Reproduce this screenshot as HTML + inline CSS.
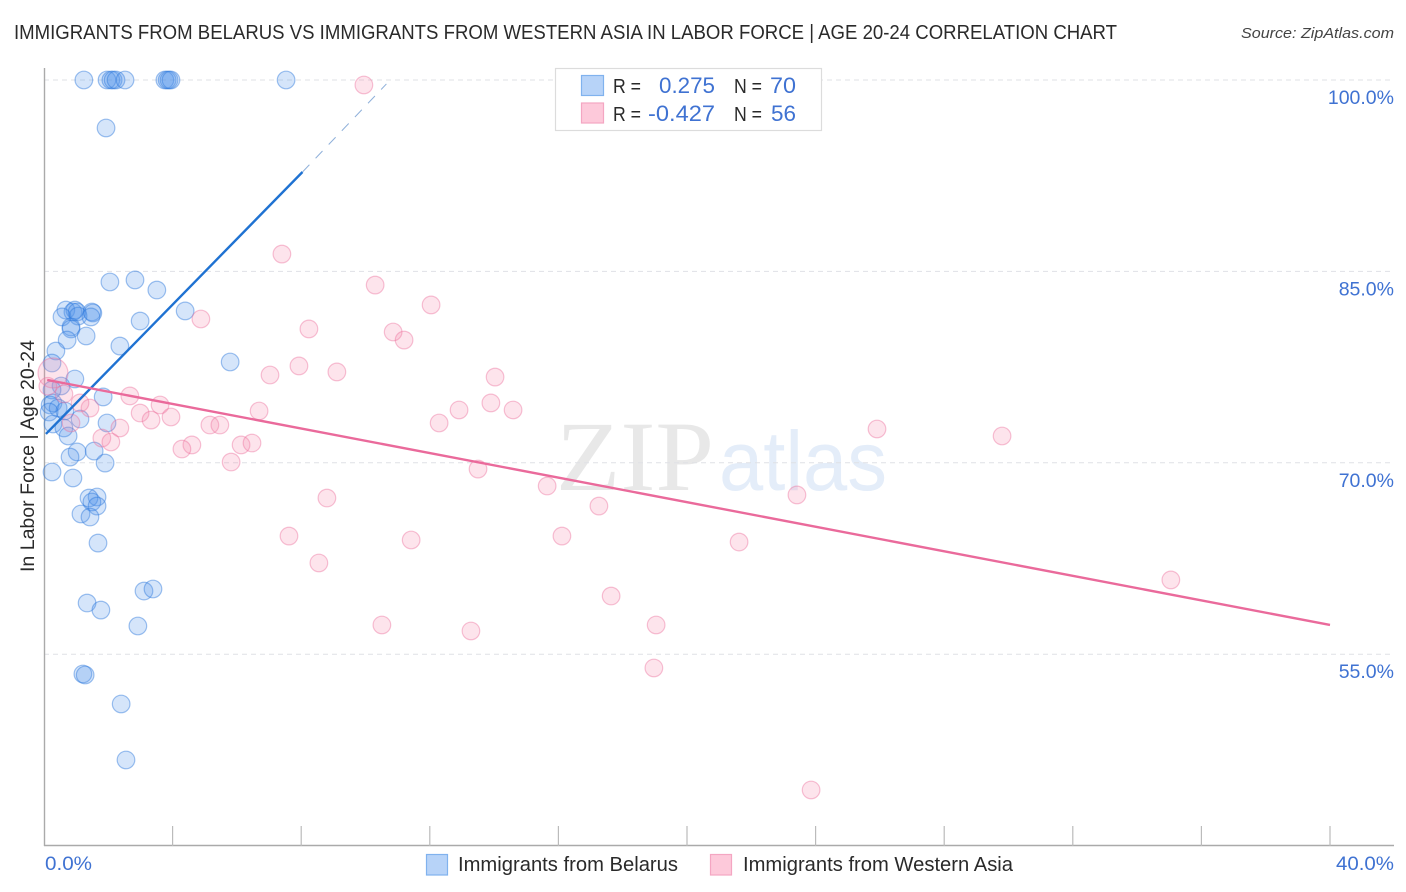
<!DOCTYPE html>
<html lang="en">
<head>
<meta charset="utf-8">
<title>Immigrants from Belarus vs Immigrants from Western Asia Correlation Chart</title>
<style>
html,body{margin:0;padding:0;background:#fff;width:1406px;height:892px;overflow:hidden}
svg{display:block}
text{font-family:"Liberation Sans",sans-serif}
.blue-t{fill:#3f72d2}
.dark-t{fill:#2a2a2a}
</style>
</head>
<body>
<svg id="chart" xmlns="http://www.w3.org/2000/svg" width="1406" height="892" viewBox="0 0 1406 892">
  <g>
    <text x="556" y="490" font-size="100" textLength="158" lengthAdjust="spacingAndGlyphs" fill="#e8e8e8" style="font-family:'Liberation Serif',serif">ZIP</text>
    <text x="719" y="490" font-size="84" textLength="168" lengthAdjust="spacingAndGlyphs" fill="#e4edf9">atlas</text>
  </g>
  <g id="grid"></g>
  <g id="axes"></g>
  <g id="blue-points"></g>
  <g id="pink-points"></g>
  <g id="trends"></g>
  <text x="14" y="39" font-size="20" textLength="1103" lengthAdjust="spacingAndGlyphs" class="dark-t">IMMIGRANTS FROM BELARUS VS IMMIGRANTS FROM WESTERN ASIA IN LABOR FORCE | AGE 20-24 CORRELATION CHART</text>
  <text x="1241" y="38" font-size="15" textLength="153" lengthAdjust="spacingAndGlyphs" font-style="italic" fill="#444">Source: ZipAtlas.com</text>
  <text transform="translate(34,456) rotate(-90)" font-size="19" text-anchor="middle" textLength="232" lengthAdjust="spacingAndGlyphs" class="dark-t">In Labor Force | Age 20-24</text>

  <g>
    <rect x="555.5" y="68.5" width="266" height="62" fill="#fff" stroke="#dcdcdc" stroke-width="1.2"/>
    <rect x="581.5" y="75.5" width="22" height="20" fill="#b7d3f8" stroke="#80b2ee" stroke-width="1.2"/>
    <rect x="581.5" y="103" width="22" height="20" fill="#fdc9da" stroke="#f4a6c2" stroke-width="1.2"/>
    <text x="613" y="93" font-size="20" textLength="28" lengthAdjust="spacingAndGlyphs" class="dark-t">R =</text>
    <text x="659" y="93" font-size="22" textLength="56" lengthAdjust="spacingAndGlyphs" class="blue-t">0.275</text>
    <text x="734" y="93" font-size="20" textLength="28" lengthAdjust="spacingAndGlyphs" class="dark-t">N =</text>
    <text x="770" y="93" font-size="22" textLength="26" lengthAdjust="spacingAndGlyphs" class="blue-t">70</text>
    <text x="613" y="121" font-size="20" textLength="28" lengthAdjust="spacingAndGlyphs" class="dark-t">R =</text>
    <text x="648" y="121" font-size="22" textLength="67" lengthAdjust="spacingAndGlyphs" class="blue-t">-0.427</text>
    <text x="734" y="121" font-size="20" textLength="28" lengthAdjust="spacingAndGlyphs" class="dark-t">N =</text>
    <text x="771" y="121" font-size="22" textLength="25" lengthAdjust="spacingAndGlyphs" class="blue-t">56</text>
  </g>

  <g>
    <rect x="426.5" y="854.5" width="21" height="20.5" fill="#b7d3f8" stroke="#80b2ee" stroke-width="1.2"/>
    <text x="458" y="871" font-size="20" textLength="220" lengthAdjust="spacingAndGlyphs" class="dark-t">Immigrants from Belarus</text>
    <rect x="710.5" y="854.5" width="21" height="20.5" fill="#fdc9da" stroke="#f4a6c2" stroke-width="1.2"/>
    <text x="743" y="871" font-size="20" textLength="270" lengthAdjust="spacingAndGlyphs" class="dark-t">Immigrants from Western Asia</text>
  </g>
</svg>
<script>
const yTickValues = [100, 85, 70, 55];
const yTickLabels = ["100.0%", "85.0%", "70.0%", "55.0%"];
const xTickValues = [4, 8, 12, 16, 20, 24, 28, 32, 36, 40];
const xEndLabels = ["0.0%", "40.0%"];

const belarusX = [1.24,1.96,2.08,2.15,2.24,2.52,3.76,3.83,3.89,3.95,7.53,1.93,2.05,2.83,3.51,2.99,4.39,0.68,0.96,0.90,1.03,1.49,1.52,0.56,1.06,1.46,0.84,0.84,1.31,0.72,0.37,2.36,0.25,5.79,0.96,0.53,0.25,1.84,0.28,0.19,0.44,0.65,0.16,1.12,1.96,0.28,0.62,0.75,1.03,0.81,1.56,1.90,0.25,0.90,1.65,1.40,1.49,1.65,1.15,1.43,1.68,1.34,1.77,3.11,3.39,2.92,1.21,1.28,2.40,2.55];
const belarusY = [100,100,100,100,100,100,100,100,100,100,100,96.24,84.17,84.33,83.54,81.11,81.90,81.97,81.97,81.82,81.82,81.82,81.74,81.43,81.5,81.43,80.64,80.49,79.94,79.62,78.76,79.15,77.82,77.9,76.57,76.02,75.71,75.16,74.69,74.53,74.29,74.06,73.98,73.43,73.12,73.04,72.73,72.1,70.85,70.45,70.92,69.98,69.28,68.81,67.32,67.24,66.93,66.61,65.99,65.75,63.71,59.01,58.46,59.95,60.11,57.21,53.45,53.37,51.10,46.71];

const westernAsiaX = [9.95,7.40,10.30,12.04,4.88,8.24,10.86,11.20,7.93,7.03,9.11,14.03,13.90,14.59,12.91,12.29,6.69,3.61,2.67,2.99,3.33,3.95,5.16,5.47,4.60,4.29,6.13,6.47,5.82,2.36,1.80,2.08,0.84,1.43,1.12,0.62,13.50,15.65,17.26,8.80,7.62,8.55,11.42,16.11,10.51,13.28,17.64,19.04,18.97,21.62,23.42,25.91,29.80,35.05,23.86,0.12,0.28];
const westernAsiaY = [99.61,86.36,83.93,82.37,81.27,80.49,80.25,79.62,77.59,76.88,77.12,76.72,74.69,74.14,74.14,73.12,74.06,74.53,75.24,73.90,73.35,73.59,72.96,72.96,71.40,71.08,71.40,71.55,70.06,72.73,71.94,71.63,73.12,74.29,74.69,75.39,69.51,68.18,66.61,67.24,64.26,62.15,63.95,64.26,57.29,56.82,59.56,57.29,53.92,63.79,67.48,72.65,72.10,60.82,44.36,76.0,77.04];
const westernAsiaWeight = [1,1,1,1,1,1,1,1,1,1,1,1,1,1,1,1,1,1,1,1,1,1,1,1,1,1,1,1,1,1,1,1,1,1,1,1,1,1,1,1,1,1,1,1,1,1,1,1,1,1,1,1,1,1,1,1,2.8];

const belarusTrendX = [0.06, 8.04, 10.65];
const belarusTrendY = [72.26, 92.79, 99.69];
const westernAsiaTrendX = [0.1, 40];
const westernAsiaTrendY = [76.49, 57.29];

const NS = "http://www.w3.org/2000/svg";
const X0 = 44, XPER = 32.15, Y100 = 80, YPER = 12.76;
function sx(v){ return X0 + v * XPER; }
function sy(v){ return Y100 + (100 - v) * YPER; }
function mk(tag, parent, props, content){
  const el = document.createElementNS(NS, tag);
  for (const k in props) el.setAttribute(k, props[k]);
  if (content !== undefined) el.textContent = content;
  document.getElementById(parent).appendChild(el);
  return el;
}

yTickValues.forEach(function(v, i){
  const line = mk("line", "grid", {x1: X0, x2: 1394, y1: sy(v), y2: sy(v), stroke: "#dfe1e6", "stroke-width": 1, "stroke-dasharray": "5 4"});
  
  
  const label = mk("text", "grid", {x: 1394, y: sy(v) + 24, "text-anchor": "end", "font-size": 19.5, "class": "blue-t"}, yTickLabels[i]);
  
  
});

const yAxis = mk("line", "axes", {x1: 44.5, x2: 44.5, y1: 68, y2: 846, stroke: "#aaa", "stroke-width": 1.4});


const xAxis = mk("line", "axes", {x1: 44, x2: 1394, y1: 845.5, y2: 845.5, stroke: "#aaa", "stroke-width": 1.4});


xTickValues.forEach(function(v){
  const tick = mk("line", "axes", {x1: sx(v), x2: sx(v), y1: 826, y2: 846, stroke: "#bbb", "stroke-width": 1.2});
  
  
});
const xStart = mk("text", "axes", {x: 45, y: 870, "font-size": 19.5, textLength: 47, lengthAdjust: "spacingAndGlyphs", "class": "blue-t"}, xEndLabels[0]);


const xEnd = mk("text", "axes", {x: 1336, y: 870, "font-size": 19.5, textLength: 58, lengthAdjust: "spacingAndGlyphs", "class": "blue-t"}, xEndLabels[1]);



belarusX.forEach(function(v, i){
  const dot = mk("circle", "blue-points", {cx: sx(v), cy: sy(belarusY[i]), r: 8.8, fill: "rgba(80,148,236,0.24)", stroke: "rgba(45,120,220,0.45)", "stroke-width": 1.2});
  
  
});
westernAsiaX.forEach(function(v, i){
  const dot = mk("circle", "pink-points", {cx: sx(v), cy: sy(westernAsiaY[i]), r: 8.8 * (westernAsiaWeight[i] > 1 ? 1.7 : 1), fill: "rgba(245,130,170,0.22)", stroke: "rgba(235,110,155,0.42)", "stroke-width": 1.2});
  
  
});

const solid = mk("line", "trends", {x1: sx(belarusTrendX[0]), y1: sy(belarusTrendY[0]), x2: sx(belarusTrendX[1]), y2: sy(belarusTrendY[1]), stroke: "#1f72d2", "stroke-width": 2.4});


const dashed = mk("line", "trends", {x1: sx(belarusTrendX[1]), y1: sy(belarusTrendY[1]), x2: sx(belarusTrendX[2]), y2: sy(belarusTrendY[2]), stroke: "#8fb0da", "stroke-width": 1, "stroke-dasharray": "10 9"});


const pinkTrend = mk("line", "trends", {x1: sx(westernAsiaTrendX[0]), y1: sy(westernAsiaTrendY[0]), x2: sx(westernAsiaTrendX[1]), y2: sy(westernAsiaTrendY[1]), stroke: "#ea6a9b", "stroke-width": 2.4});


</script>
</body>
</html>
